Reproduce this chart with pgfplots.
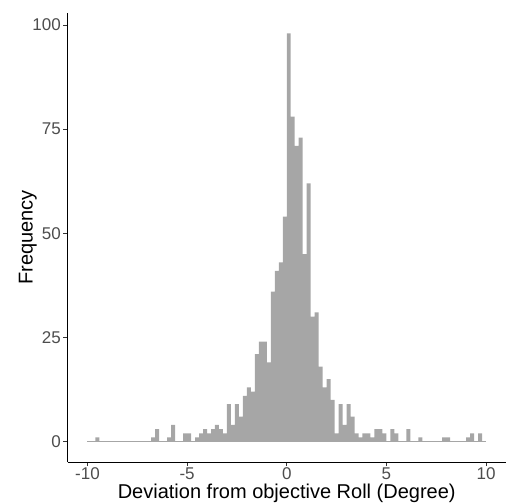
\documentclass[border=0pt]{standalone}
\usepackage{pgfplots}
\pgfplotsset{compat=1.18}
\usepackage{pgfplotstable}
\usepackage{fontspec}
\setmainfont{Liberation Sans}
\definecolor{barcol}{RGB}{166,166,166}
\definecolor{tickcol}{RGB}{77,77,77}
\definecolor{axcol}{RGB}{51,51,51}
\pgfplotstableread{
x y
-10.0 0
-9.8 0
-9.6 1
-9.4 0
-9.2 0
-9.0 0
-8.8 0
-8.6 0
-8.4 0
-8.2 0
-8.0 0
-7.8 0
-7.6 0
-7.4 0
-7.2 0
-7.0 0
-6.8 1
-6.6 3
-6.4 0
-6.2 0
-6.0 1
-5.8 4
-5.6 0
-5.4 0
-5.2 2
-5.0 2
-4.8 0
-4.6 1
-4.4 2
-4.2 3
-4.0 2
-3.8 3
-3.6 4
-3.4 3
-3.2 2
-3.0 9
-2.8 4
-2.6 9
-2.4 6
-2.2 11
-2.0 13
-1.8 12
-1.6 21
-1.4 24
-1.2 24
-1.0 19
-0.8 36
-0.6 41
-0.4 43
-0.2 54
0.0 98
0.2 78
0.4 71
0.6 73
0.8 45
1.0 62
1.2 30
1.4 31
1.6 18
1.8 13
2.0 15
2.2 10
2.4 2
2.6 9
2.8 4
3.0 9
3.2 6
3.4 2
3.6 1
3.8 2
4.0 2
4.2 1
4.4 3
4.6 3
4.8 2
5.0 0
5.2 3
5.4 2
5.6 0
5.8 0
6.0 3
6.2 0
6.4 0
6.6 1
6.8 0
7.0 0
7.2 0
7.4 0
7.6 0
7.8 1
8.0 1
8.2 0
8.4 0
8.6 0
8.8 0
9.0 1
9.2 2
9.4 0
9.6 2
9.8 0
10.0 0
}\histdata
\begin{document}
\begin{tikzpicture}
\useasboundingbox (-67.5bp,-41bp) rectangle (438.5bp,462bp);
\begin{axis}[
  at={(0,0)}, anchor=south west,
  scale only axis,
  width=438.5bp, height=449bp,
  xmin=-11, xmax=11, ymin=-4.9, ymax=102.9,
  axis x line*=bottom, axis y line*=left,
  axis line style={black, line width=0.8bp},
  xtick={-10,-5,0,5,10}, ytick={0,25,50,75,100},
  tick align=outside, major tick length=4bp,
  tick style={axcol, line width=0.8bp},
  /pgf/number format/assume math mode=true,
  ticklabel style={font=\fontsize{17bp}{19bp}\selectfont, text=tickcol, inner sep=1.5bp},
  xticklabel style={yshift=0bp},
  yticklabel style={xshift=-1bp},
  xlabel={Deviation from objective Roll (Degree)},
  ylabel={Frequency},
  label style={font=\fontsize{20bp}{24bp}\selectfont, text=black, inner sep=1bp},
  xlabel style={at={(axis description cs:0.5,0)}, anchor=base, yshift=-36.5bp},
  ylabel style={at={(axis description cs:0,0.5)}, anchor=base, yshift=35bp},
  clip=false,
]
\addplot[const plot, fill=barcol, draw=none] table[x=x,y=y] {\histdata} \closedcycle;
\addplot[barcol, line width=0.9bp] coordinates {(-10,0) (10,0)};
\end{axis}
\end{tikzpicture}
\end{document}
